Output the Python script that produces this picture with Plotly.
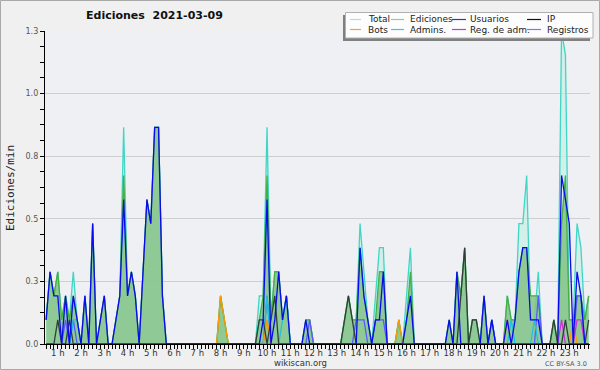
import plotly.graph_objects as go

# 10-minute bins starting 00:30 (hours)
N = 141
hours = [0.5 + k / 6 for k in range(N)]

def series(pairs):
    v = [0.0] * N
    for k, val in pairs.items():
        v[k] = val
    return v

total = series({0: .1, 1: .3, 2: .2, 3: .3, 4: .1, 5: .2, 6: .1, 7: .3, 8: .1, 10: .2, 12: .5, 14: .1, 15: .2,
                18: .1, 19: .2, 20: .9, 21: .2, 22: .3, 23: .2, 25: .3, 26: .6, 27: .5, 28: .9, 29: .9, 30: .2,
                45: .2, 46: .1, 55: .2, 56: .2, 57: .9, 58: .1, 59: .3, 60: .3, 61: .1, 62: .2, 67: .1, 68: .1,
                77: .1, 78: .2, 79: .1, 80: .1, 81: .5, 82: .3, 83: .1, 85: .2, 86: .4, 87: .4, 91: .1, 93: .2, 94: .4,
                104: .1, 106: .3, 107: .2, 108: .4, 110: .1, 111: .1, 113: .2, 115: .1, 119: .2,
                120: .1, 121: .1, 122: .5, 123: .5, 124: .7, 125: .1, 126: .1, 127: .3, 131: .1,
                133: 1.3, 134: 1.2, 135: .1, 136: .1, 137: .5, 138: .4, 139: .1, 140: .2})
ediciones = series({0: .1, 1: .3, 2: .2, 3: .3, 4: .1, 5: .2, 6: .1, 7: .2, 8: .1, 10: .2, 12: .5, 14: .1, 15: .2,
                    18: .1, 19: .2, 20: .7, 21: .2, 22: .3, 23: .2, 25: .3, 26: .6, 27: .5, 28: .9, 29: .9, 30: .2,
                    45: .2, 46: .1, 55: .1, 56: .2, 57: .7, 58: .1, 59: .3, 60: .3, 61: .1, 62: .2, 67: .1, 68: .1,
                    77: .1, 78: .2, 79: .1, 80: .1, 81: .4, 82: .2, 83: .1, 85: .1, 86: .3, 87: .3, 91: .1, 93: .1, 94: .3,
                    104: .1, 106: .3, 107: .2, 108: .4, 110: .1, 111: .1, 113: .2, 115: .1, 119: .2,
                    120: .1, 121: .1, 122: .3, 123: .4, 124: .4, 125: .2, 126: .2, 127: .2, 131: .1,
                    133: .5, 134: .7, 135: .1, 136: .1, 137: .2, 138: .2, 139: .1, 140: .2})
usuarios = series({0: .1, 1: .3, 2: .2, 3: .2, 5: .2, 7: .2, 8: .1, 10: .2, 12: .5, 14: .1, 15: .2,
                   18: .1, 19: .2, 20: .6, 21: .2, 22: .3, 23: .2, 25: .3, 26: .6, 27: .5, 28: .9, 29: .9, 30: .2,
                   56: .1, 57: .6, 59: .1, 60: .3, 61: .1, 62: .2, 67: .1,
                   81: .4, 82: .2, 83: .1, 85: .1, 86: .1, 87: .3, 93: .1, 94: .2,
                   104: .1, 106: .3, 113: .2, 115: .1, 119: .1,
                   121: .1, 122: .3, 123: .4, 124: .4, 125: .1, 126: .1, 127: .1,
                   133: .7, 134: .6, 135: .5, 137: .3, 138: .2})
ip = series({3: .1, 6: .1, 55: .1, 56: .1, 58: .1, 59: .2, 77: .1, 78: .2, 79: .1,
             107: .2, 108: .4, 110: .1, 111: .1, 131: .1, 134: .1, 140: .1})
bots = series({45: .2, 46: .1, 57: .1, 91: .1, 119: .1, 136: .1})
admins = series({7: .1, 8: .1, 57: .2, 61: .1, 62: .2, 120: .1, 126: .1})
reg_adm = series({133: .1, 137: .1, 138: .1})
registros = series({5: .1, 7: .1, 57: .2, 68: .1, 80: .1, 81: .1, 82: .1, 85: .1, 86: .1, 87: .1, 115: .1,
                    127: .2, 137: .2, 138: .2})

hour_ticks = list(range(1, 24))
hour_labels = [f"{h} h" for h in hour_ticks]
y_ticks = [0, 0.26, 0.52, 0.78, 1.04, 1.3]
y_labels = ["0.0", "0.3", "0.5", "0.8", "1.0", "1.3"]

legend_names = ["Total", "Ediciones", "Usuarios", "IP", "Bots", "Admins.", "Reg. de adm.", "Registros"]
legend_colors = ["#9fe6dc", "#8fd08f", "#3333cc", "#111111", "#ff9933", "#33ccdd", "#cc33dd", "#7777ff"]

fig = go.Figure()
fig.add_trace(go.Scatter(x=hours, y=total, mode="lines", line=dict(color="#3fd6c6", width=1.3),
                         fill="tozeroy", fillcolor="rgba(200,238,230,0.7)", showlegend=False))
fig.add_trace(go.Scatter(x=hours, y=ediciones, mode="lines", line=dict(color="#44b044", width=1.3),
                         fill="tozeroy", fillcolor="rgba(130,195,135,0.85)", showlegend=False))
for vals, col in [(registros, "#5a5aff"), (admins, "#1ec4de"), (bots, "#ff9900"), (reg_adm, "#cc33dd"),
                  (ip, "#2f3f37"), (usuarios, "#0a0aee")]:
    fig.add_trace(go.Scatter(x=hours, y=vals, mode="lines", line=dict(color=col, width=1.3), showlegend=False))

L, T, PW, PH = 45, 31, 545, 313
def px(x):
    return (x - L) / PW
def py(y):
    return (T + PH - y) / PH

shapes = []
annotations = []
# outer border
shapes.append(dict(type="rect", xref="paper", yref="paper", x0=px(0.5), x1=px(599.5), y0=py(0.5), y1=py(369.5),
                   line=dict(color="#a8a8a8", width=1), layer="below"))
# legend shadow + box
shapes.append(dict(type="rect", xref="paper", yref="paper", x0=px(343), x1=px(590), y0=py(15), y1=py(41),
                   fillcolor="#808080", line=dict(width=0)))
shapes.append(dict(type="rect", xref="paper", yref="paper", x0=px(345.5), x1=px(593), y0=py(12.5), y1=py(38),
                   fillcolor="#fdfdfd", line=dict(color="#b0b0b0", width=1)))
col_line = [(350, 361), (391, 404), (452, 466), (527, 541)]
col_text_x = [366, 408, 468, 545]
row_y = [19.5, 29.5]
for i, (name, col) in enumerate(zip(legend_names, legend_colors)):
    r, c = divmod(i, 4)
    shapes.append(dict(type="line", xref="paper", yref="paper", x0=px(col_line[c][0]), x1=px(col_line[c][1]),
                       y0=py(row_y[r]), y1=py(row_y[r]), line=dict(color=col, width=1.2)))
    annotations.append(dict(text=name, xref="paper", yref="paper", x=px(col_text_x[c]), y=py(row_y[r]),
                            xanchor="left", yanchor="middle", showarrow=False,
                            font=dict(family="DejaVu Sans", size=9, color="#222")))

annotations.append(dict(text="Ediciones\u00a0 2021-03-09", xref="paper", yref="paper", x=px(154), y=py(16),
                        xanchor="center", yanchor="middle", showarrow=False,
                        font=dict(family="DejaVu Sans", size=11, color="#111", weight="bold")))
annotations.append(dict(text="Ediciones/min", xref="paper", yref="paper", x=px(10), y=py(188),
                        xanchor="center", yanchor="middle", showarrow=False, textangle=-90,
                        font=dict(family="DejaVu Sans Mono", size=11, color="#222")))
annotations.append(dict(text="wikiscan.org", xref="paper", yref="paper", x=px(300.5), y=py(363),
                        xanchor="center", yanchor="middle", showarrow=False,
                        font=dict(family="DejaVu Sans", size=8.5, color="#333")))
annotations.append(dict(text="CC BY-SA 3.0", xref="paper", yref="paper", x=px(589), y=py(363.5),
                        xanchor="right", yanchor="middle", showarrow=False,
                        font=dict(family="DejaVu Sans", size=6.5, color="#555")))

fig.update_layout(
    width=600, height=370, margin=dict(l=L, r=600 - L - PW, t=T, b=370 - T - PH),
    paper_bgcolor="#f0f0f0", plot_bgcolor="#eef0f3",
    shapes=shapes, annotations=annotations, showlegend=False,
    xaxis=dict(range=[0.45, 23.89], tickvals=hour_ticks, ticktext=hour_labels, ticks="outside", ticklen=4,
               tickcolor="#000", showgrid=False, zeroline=False, showline=True, linecolor="#000", linewidth=1.3,
               tickfont=dict(family="DejaVu Sans", size=8.5, color="#333"), ticklabelstandoff=-3,
               minor=dict(dtick=1 / 6, tick0=0.5, ticks="outside", ticklen=4, tickcolor="#000", showgrid=False)),
    yaxis=dict(range=[0, 1.3], tickvals=y_ticks, ticktext=y_labels, ticks="outside", ticklen=4,
               tickcolor="#000", showgrid=True, gridcolor="#cfcfcf", gridwidth=1, zeroline=False,
               showline=True, linecolor="#000", linewidth=1.3,
               tickfont=dict(family="DejaVu Sans", size=8, color="#555"),
               minor=dict(dtick=0.065, tick0=0, ticks="outside", ticklen=4, tickcolor="#000", showgrid=False)),
)
fig.write_html("out.html", config={"displayModeBar": False},
               post_script="document.body.style.margin='0';document.body.style.overflow='hidden';")
